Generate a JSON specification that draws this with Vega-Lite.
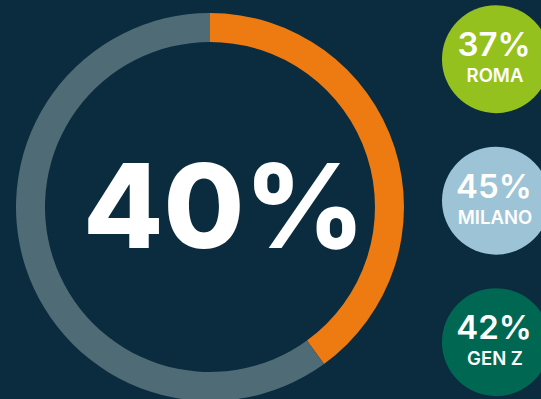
{
  "$schema": "https://vega.github.io/schema/vega-lite/v6.json",
  "width": 541,
  "height": 399,
  "autosize": {"type": "none"},
  "padding": 0,
  "background": "#0a2c3e",
  "config": {"view": {"stroke": null}},
  "datasets": {
    "ring": [
      {"group": "donut", "part": "share", "value": 40, "rank": 1},
      {"group": "donut", "part": "rest", "value": 60, "rank": 2}
    ],
    "headline": [
      {"group": "donut", "label": "40%"}
    ],
    "cities": [
      {"group": "bubbles", "city": "ROMA", "pct": "37%"},
      {"group": "bubbles", "city": "MILANO", "pct": "45%"},
      {"group": "bubbles", "city": "GEN Z", "pct": "42%"}
    ]
  },
  "layer": [
    {
      "layer": [
        {
          "data": {"name": "ring"},
          "mark": {"type": "arc", "outerRadius": 194, "innerRadius": 165},
          "encoding": {
            "x": {"field": "group", "type": "nominal", "axis": null,
                  "scale": {"type": "point", "domain": ["donut", "bubbles"], "padding": 0.4458, "align": 0.8235}},
            "y": {"field": "group", "type": "nominal", "axis": null,
                  "scale": {"type": "point", "domain": ["donut"], "padding": 0, "align": 0.5188}},
            "theta": {"field": "value", "type": "quantitative", "stack": true},
            "order": {"field": "rank", "type": "quantitative"},
            "color": {"field": "part", "type": "nominal", "legend": null,
                      "scale": {"domain": ["share", "rest"], "range": ["#ee7a12", "#4f6b76"]}}
          }
        },
        {
          "data": {"name": "headline"},
          "mark": {"type": "text", "font": "Inter", "fontWeight": 800, "fontSize": 117,
                   "color": "#ffffff", "align": "center", "baseline": "alphabetic", "dx": 14, "dy": 41},
          "encoding": {
            "x": {"field": "group", "type": "nominal", "axis": null},
            "y": {"field": "group", "type": "nominal", "axis": null},
            "text": {"field": "label"}
          }
        }
      ]
    },
    {
      "data": {"name": "cities"},
      "layer": [
        {
          "mark": {"type": "point", "shape": "circle", "filled": true, "size": 11664, "opacity": 1},
          "encoding": {
            "x": {"field": "group", "type": "nominal", "axis": null},
            "y": {"field": "city", "type": "nominal", "axis": null,
                  "scale": {"type": "point", "domain": ["ROMA", "MILANO", "GEN Z"], "padding": 0.41, "align": 0.51}},
            "fill": {"field": "city", "type": "nominal", "legend": null,
                     "scale": {"domain": ["ROMA", "MILANO", "GEN Z"], "range": ["#95c11f", "#9dc4d6", "#006852"]}}
          }
        },
        {
          "mark": {"type": "text", "font": "Inter", "fontWeight": 600, "fontSize": 33,
                   "color": "#ffffff", "align": "center", "baseline": "alphabetic", "dx": -2, "dy": -3},
          "encoding": {
            "x": {"field": "group", "type": "nominal", "axis": null},
            "y": {"field": "city", "type": "nominal", "axis": null},
            "text": {"field": "pct"}
          }
        },
        {
          "mark": {"type": "text", "font": "Inter", "fontWeight": 600, "fontSize": 18.5,
                   "color": "#ffffff", "align": "center", "baseline": "alphabetic", "dx": -1, "dy": 23},
          "encoding": {
            "x": {"field": "group", "type": "nominal", "axis": null},
            "y": {"field": "city", "type": "nominal", "axis": null},
            "text": {"field": "city"}
          }
        }
      ]
    }
  ],
  "resolve": {"scale": {"y": "independent"}}
}
